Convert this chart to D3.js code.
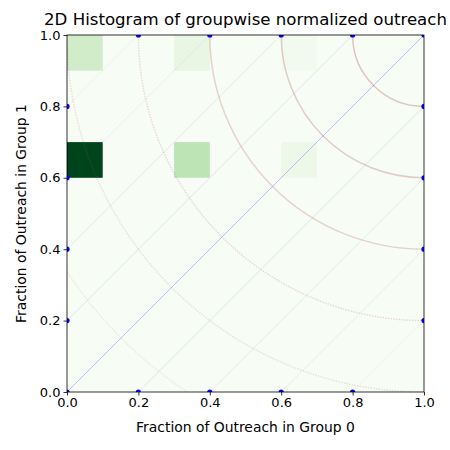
<!DOCTYPE html>
<html><head><meta charset="utf-8">
<script src="https://cdn.jsdelivr.net/npm/d3@7"></script>
<style>body{margin:0;background:#fff}svg text{font-family:"DejaVu Sans",sans-serif;fill:#000}</style>
</head><body><svg id="c" width="450" height="450"></svg>
<script>
// histogram bins (lower-left corner of each 0.1 x 0.1 cell) and counts
const binX = [0.0, 0.3, 0.0, 0.3, 0.6, 0.6];
const binY = [0.9, 0.9, 0.6, 0.6, 0.6, 0.9];
const counts = [6, 3, 28, 8, 2, 1];
const binSize = 0.1;
const diagOffsets = [-0.8, -0.6, -0.4, -0.2, 0, 0.2, 0.4, 0.6, 0.8];
const circleRadii = [0.2, 0.4, 0.6, 0.8, 1.0, 1.2, 1.4];
const tickValues = [0, 0.2, 0.4, 0.6, 0.8, 1.0];
const title = "2D Histogram of groupwise normalized outreach";
const xLabel = "Fraction of Outreach in Group 0";
const yLabel = "Fraction of Outreach in Group 1";

const svg = d3.select("#c");
const L = 67, R = 424, T = 35, B = 392;
const x = d3.scaleLinear().domain([0, 1]).range([L, R]);
const y = d3.scaleLinear().domain([0, 1]).range([B, T]);
const greens = ["#f7fcf5","#e5f5e0","#c7e9c0","#a1d99b","#74c476","#41ab5d","#238b45","#006d2c","#00441b"];
const color = d3.scaleLinear().domain(d3.range(9).map(i => i / 8 * d3.max(counts))).range(greens);

svg.append("defs").append("clipPath").attr("id", "clip")
  .append("rect").attr("x", L).attr("y", T).attr("width", R - L).attr("height", B - T);

// background (all zero bins)
svg.append("rect").attr("x", L).attr("y", T).attr("width", R - L).attr("height", B - T).attr("fill", color(0));

const g = svg.append("g").attr("clip-path", "url(#clip)");
g.selectAll("rect.bin").data(counts).join("rect").attr("class", "bin")
  .attr("x", (d, i) => x(binX[i]))
  .attr("y", (d, i) => y(binY[i] + binSize))
  .attr("width", (d, i) => x(binX[i] + binSize) - x(binX[i]))
  .attr("height", (d, i) => y(binY[i]) - y(binY[i] + binSize))
  .attr("fill", d => color(d));

// circles centred at (1,1)
g.selectAll("circle.ring").data(circleRadii).join("circle").attr("class", "ring")
  .attr("cx", x(1)).attr("cy", y(1))
  .attr("r", r => x(r) - x(0))
  .attr("fill", "none")
  .attr("stroke", "#b86464")
  .attr("stroke-width", 1.5)
  .attr("stroke-opacity", r => Math.max(0.1, 0.42 - r * 0.24))
  .attr("stroke-dasharray", r => r >= 0.8 ? "1.5,1.2" : null);

// diagonal lines y = x + c
const seg = c => [[Math.max(0, -c), Math.max(0, c)], [Math.min(1, 1 - c), Math.min(1, 1 + c)]];
g.selectAll("line.diag").data(diagOffsets).join("line").attr("class", "diag")
  .attr("x1", c => x(seg(c)[0][0])).attr("y1", c => y(seg(c)[0][1]))
  .attr("x2", c => x(seg(c)[1][0])).attr("y2", c => y(seg(c)[1][1]))
  .attr("stroke", "#3355ff")
  .attr("stroke-width", 0.8)
  .attr("stroke-opacity", c => c === 0 ? 0.4 : 0.17 * (1 - Math.abs(c)) + 0.04);

// endpoint dots
const pts = diagOffsets.flatMap(seg);
g.selectAll("circle.dot").data(pts).join("circle").attr("class", "dot")
  .attr("cx", p => x(p[0])).attr("cy", p => y(p[1])).attr("r", 2.6).attr("fill", "blue");

// axes
const ax = svg.append("g").attr("transform", `translate(0,${B})`)
  .call(d3.axisBottom(x).tickValues(tickValues).tickFormat(d3.format(".1f")).tickSize(3.5).tickSizeOuter(0));
const ay = svg.append("g").attr("transform", `translate(${L},0)`)
  .call(d3.axisLeft(y).tickValues(tickValues).tickFormat(d3.format(".1f")).tickSize(3.5).tickSizeOuter(0));
[ax, ay].forEach(a => {
  a.select(".domain").remove();
  a.selectAll(".tick line").attr("stroke", "#000").attr("stroke-width", 0.8);
  a.selectAll(".tick text").attr("font-size", 13).attr("font-family", "DejaVu Sans").attr("fill", "#000");
});
ax.selectAll(".tick text").attr("dy", "0.71em").attr("y", 6);
ay.selectAll(".tick text").attr("x", -6.5);

svg.append("rect").attr("x", L).attr("y", T).attr("width", R - L).attr("height", B - T)
  .attr("fill", "none").attr("stroke", "#000").attr("stroke-width", 0.8);

svg.append("text").attr("x", (L + R) / 2).attr("y", 25).attr("text-anchor", "middle")
  .attr("font-size", 16.6).text(title);
svg.append("text").attr("x", (L + R) / 2).attr("y", 432).attr("text-anchor", "middle")
  .attr("font-size", 13.9).text(xLabel);
svg.append("text").attr("transform", `translate(26,${(T + B) / 2}) rotate(-90)`).attr("text-anchor", "middle")
  .attr("font-size", 13.9).text(yLabel);
</script></body></html>
